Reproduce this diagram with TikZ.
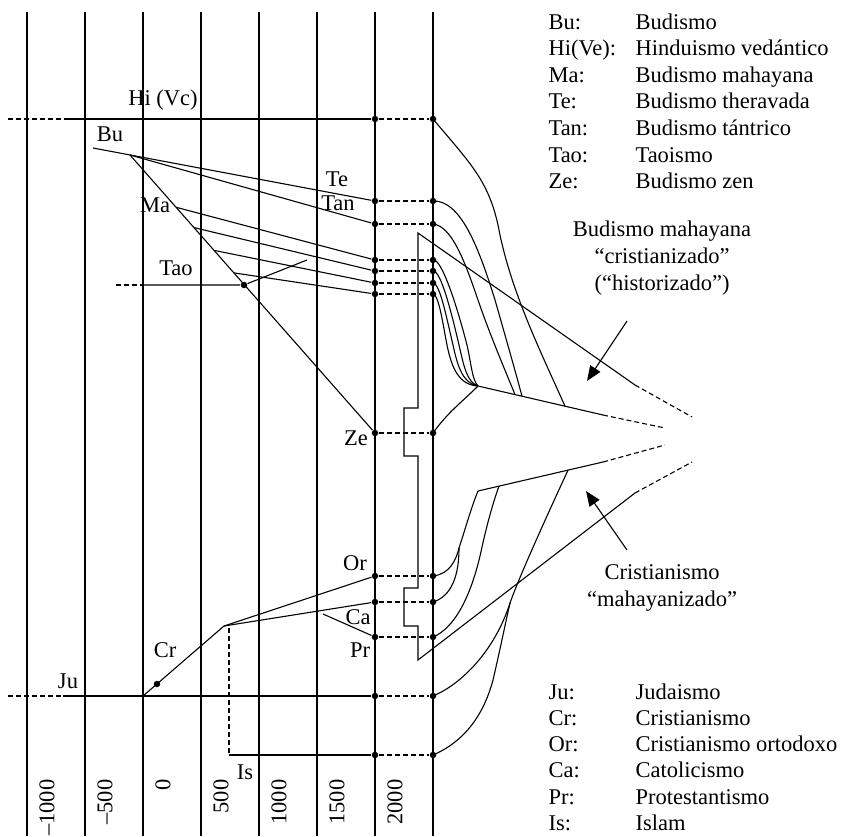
\documentclass[tikz,border=0pt]{standalone}
\usepackage{fontspec}
\setmainfont{Liberation Serif}
\usetikzlibrary{arrows.meta, calc}

\begin{document}
\begin{tikzpicture}[
  x=1pt, y=-1pt,
  line width=1.1pt,
  every node/.style={font=\fontsize{22.5}{26.6}\selectfont, inner sep=0pt},
  blob/.style={circle, fill=black, minimum size=6.5pt},
  gap/.style={dash pattern=on 5pt off 3pt},
  year/.style={rotate=90, anchor=east},
  tag/.style={anchor=base west},
  note/.style={align=center},
  point/.style={-{Triangle[length=15pt, width=12pt]}}
]
  \useasboundingbox (0,0) rectangle (846,836);

  % time axis
  \foreach \x/\yr [count=\i] in {27/–1000, 85/–500, 143/0, 201/500, 259/1000, 317/1500, 375/2000}{
    \draw (\x,12) -- (\x,836);
    \node[year] (yr\i) at (\x+20,779) {\yr};
  }
  \draw (433,12) -- (433,836);

  % events: 2000 line and present line
  \foreach \n/\y in {hi/119, te/201, tan/224, maA/260, maB/271, maC/283, maD/294, ze/433, or/576, ca/602, pr/637, ju/696, is/755}{
    \node[blob] (\n) at (375,\y) {};
    \node[blob] (\n2) at (433,\y) {};
    \draw[gap] (\n) -- (\n2);
  }

  % Hinduismo
  \coordinate (hiS) at (8,119);
  \coordinate (hiT) at (65,119);
  \draw[gap] (hiS) -- (hiT);
  \draw (hiT) -- (hi);
  \node (hiL) at (163,100) {Hi (Vc)};

  % Budismo
  \coordinate (buS) at (93,148);
  \coordinate (bu0) at (130,155);
  \draw (buS) -- (te);
  \draw (bu0) -- (tan);
  \draw (bu0) -- (ze);
  \foreach \t/\n in {0.188/maA, 0.261/maB, 0.343/maC, 0.424/maD}
    \draw ($(bu0)!\t!(ze.center)$) -- (\n);
  \node (buL) at (110,134) {Bu};
  \node (teL) at (337,179) {Te};
  \node (tanL) at (338,203) {Tan};
  \node (maL) at (155,205) {Ma};
  \node (zeL) at (356,438) {Ze};

  % Taoismo
  \coordinate (taoS) at (116,285);
  \coordinate (taoT) at (142,285);
  \node[blob] (tao) at (244,285) {};
  \coordinate (taoE) at (307,260);
  \draw[gap] (taoS) -- (taoT);
  \draw (taoT) -- (tao) -- (taoE);
  \node (taoL) at (176,268) {Tao};

  % Judaismo, Cristianismo, Islam
  \coordinate (juS) at (8,696);
  \coordinate (juT) at (63,696);
  \draw[gap] (juS) -- (juT);
  \draw (juT) -- (ju);
  \coordinate (cr0) at (143,696);
  \coordinate (cr1) at (224,626);
  \draw (cr0) -- (cr1);
  \node[blob] (cr) at (157,684) {};
  \draw (cr1) -- (or);
  \draw (cr1) -- (ca);
  \coordinate (prS) at (323,614);
  \draw (prS) -- (pr);
  \coordinate (isA) at (229,628);
  \coordinate (isB) at (229,755);
  \draw[gap] (isA) -- (isB);
  \draw (isB) -- (is);
  \node (juL) at (68,681) {Ju};
  \node (crL) at (165,650) {Cr};
  \node (orL) at (355,563) {Or};
  \node (caL) at (358,617) {Ca};
  \node (prL) at (360,650) {Pr};
  \node (isL) at (245,772) {Is};

  % bracket
  \coordinate (bkT) at (418,233);
  \coordinate (bkB) at (418,660);
  \coordinate (upE) at (635,385);
  \coordinate (upF) at (692,417);
  \coordinate (loE) at (635,493);
  \coordinate (loF) at (692,462);
  \draw (upE) -- (bkT) -- (418,408) -- (404,408) -- (404,456) -- (418,456)
    -- (418,588) -- (404,588) -- (404,626) -- (418,626) -- (bkB) -- (loE);
  \draw[gap] (upE) -- (upF);
  \draw[gap] (loE) -- (loF);

  % inner cone
  \coordinate (bm) at (478,386);
  \coordinate (bmE) at (603,415);
  \coordinate (bmF) at (665,428);
  \coordinate (cm) at (478,491);
  \coordinate (cmE) at (603,462);
  \coordinate (cmF) at (665,445);
  \draw (bm) -- (bmE);
  \draw[gap] (bmE) -- (bmF);
  \draw (cm) -- (cmE);
  \draw[gap] (cmE) -- (cmF);

  % currents towards the cone
  \coordinate (hiEnd) at ($(bm)!0.696!(bmE)$);
  \coordinate (teEnd) at ($(bm)!0.352!(bmE)$);
  \coordinate (tanEnd) at ($(bm)!0.296!(bmE)$);
  \draw (hi2.center) .. controls (470,163) and (488,180) .. (498,225)
    .. controls (510,290) and (540,350) .. (hiEnd);
  \draw (te2.center) .. controls (460,200) and (478,245) .. (495,300)
    .. controls (505,335) and (515,370) .. (teEnd);
  \draw (tan2.center) .. controls (452,226) and (465,262) .. (478,300)
    .. controls (490,335) and (505,370) .. (tanEnd);
  \draw (maA2.center) .. controls (442,258) and (458,310) .. (467,345)
    .. controls (471,362) and (472,380) .. (bm);
  \draw (maB2.center) .. controls (441,270) and (452,315) .. (459,345)
    .. controls (464,367) and (467,382) .. (bm);
  \draw (maC2.center) .. controls (440,283) and (447,320) .. (453,345)
    .. controls (458,368) and (463,383) .. (bm);
  \draw (maD2.center) .. controls (439,295) and (443,325) .. (447,345)
    .. controls (452,370) and (460,385) .. (bm);
  \draw (ze2.center) .. controls (448,412) and (462,402) .. (bm);

  \coordinate (ocJ) at (459,548);
  \coordinate (prEnd) at ($(cm)!0.168!(cmE)$);
  \coordinate (jiJ) at (510,603);
  \coordinate (jiEnd) at ($(cm)!0.72!(cmE)$);
  \draw (or2.center) .. controls (450,574) and (456,560) .. (ocJ)
    .. controls (465,530) and (472,505) .. (cm);
  \draw (ca2.center) .. controls (452,596) and (459,575) .. (ocJ);
  \draw (pr2.center) .. controls (455,628) and (472,595) .. (482,547)
    .. controls (488,520) and (494,500) .. (prEnd);
  \draw (ju2.center) .. controls (462,684) and (495,650) .. (jiJ);
  \draw (is2.center) .. controls (468,740) and (485,710) .. (493,680)
    .. controls (500,650) and (505,625) .. (jiJ);
  \draw (jiJ) .. controls (520,575) and (545,520) .. (jiEnd);

  % notes and arrows
  \node[note] (bmNote) at (662,258) {Budismo mahayana\\“cristianizado”\\(“historizado”)};
  \node[note] (cmNote) at (662,588) {Cristianismo\\“mahayanizado”};
  \coordinate (arU) at (627,321);
  \coordinate (arUt) at (587,381);
  \coordinate (arL) at (627,550);
  \coordinate (arLt) at (586,491);
  \draw[point] (arU) -- (arUt);
  \draw[point] (arL) -- (arLt);

  % legends
  \foreach \a/\b [count=\i] in {Bu:/Budismo, Hi(Ve):/Hinduismo vedántico, Ma:/Budismo mahayana, Te:/Budismo theravada, Tan:/Budismo tántrico, Tao:/Taoismo, Ze:/Budismo zen}{
    \node[tag] (keyA\i) at (548,29+26.6*\i-26.6) {\a};
    \node[tag] (valA\i) at (635,29+26.6*\i-26.6) {\b};
  }
  \foreach \a/\b [count=\i] in {Ju:/Judaismo, Cr:/Cristianismo, Or:/Cristianismo ortodoxo, Ca:/Catolicismo, Pr:/Protestantismo, Is:/Islam}{
    \node[tag] (keyB\i) at (548,699+26.3*\i-26.3) {\a};
    \node[tag] (valB\i) at (635,699+26.3*\i-26.3) {\b};
  }
\end{tikzpicture}
\end{document}
